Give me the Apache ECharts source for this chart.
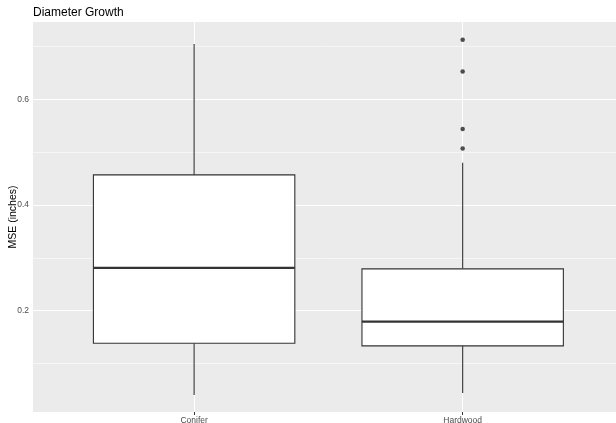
<!DOCTYPE html>
<html>
<head>
<meta charset="utf-8">
<script src="https://cdn.jsdelivr.net/npm/echarts@6/dist/echarts.min.js"></script>
<style>
  html, body { margin: 0; padding: 0; background: #fff; }
  #chart { width: 616px; height: 423px; }
</style>
</head>
<body>
<div id="chart"></div>
<script>
// Box-plot summaries of diameter-growth MSE by species group
const categories = ['Conifer', 'Hardwood'];
const whiskerLow = [0.040, 0.044];
const q1 = [0.138, 0.133];
const median = [0.281, 0.179];
const q3 = [0.457, 0.279];
const whiskerHigh = [0.705, 0.480];
// Points beyond the whiskers (Hardwood only)
const hardwoodOutliers = [0.713, 0.653, 0.544, 0.507];
// Axis ticks and grid levels
const yMajor = [0.2, 0.4, 0.6];
const yMinor = [0.1, 0.3, 0.5, 0.7];
const xPositions = [0, 1];

const boxData = categories.map((c, i) => [xPositions[i], whiskerLow[i], q1[i], median[i], q3[i], whiskerHigh[i]]);
const outlierData = hardwoodOutliers.map(v => [xPositions[1], v]);

const gridLines = [];
yMinor.forEach(v => gridLines.push({ yAxis: v, lineStyle: { color: '#FFFFFF', width: 0.55, type: 'solid' } }));
yMajor.forEach(v => gridLines.push({ yAxis: v, lineStyle: { color: '#FFFFFF', width: 1.1, type: 'solid' } }));
xPositions.forEach(v => gridLines.push({ xAxis: v, lineStyle: { color: '#FFFFFF', width: 1.1, type: 'solid' } }));

const FONT = '"Liberation Sans", Arial, sans-serif';
const chart = echarts.init(document.getElementById('chart'), null, { renderer: 'canvas' });

chart.setOption({
  animation: false,
  backgroundColor: '#FFFFFF',
  title: {
    text: 'Diameter Growth',
    left: 33,
    top: 7,
    padding: 0,
    textStyle: { fontFamily: FONT, fontSize: 12, fontWeight: 'normal', color: '#000000' }
  },
  grid: {
    left: 33, top: 22, right: 0, bottom: 11,
    show: true, backgroundColor: '#EBEBEB', borderWidth: 0,
    outerBoundsMode: 'none'
  },
  xAxis: {
    type: 'value',
    min: -0.6,
    max: 1.571,
    axisLine: { show: false },
    splitLine: { show: false },
    axisTick: { show: true, length: 3, lineStyle: { color: '#333333', width: 1 }, customValues: xPositions },
    axisLabel: {
      show: true, margin: 4, color: '#4D4D4D', fontFamily: FONT, fontSize: 8.5,
      customValues: xPositions,
      formatter: v => categories[Math.round(v)] || ''
    }
  },
  yAxis: {
    type: 'value',
    min: 0.0078,
    max: 0.7467,
    name: 'MSE (inches)',
    nameLocation: 'middle',
    nameRotate: 90,
    nameGap: 14,
    nameMoveOverlap: false,
    nameTextStyle: { fontFamily: FONT, fontSize: 10.5, color: '#000000' },
    axisLine: { show: false },
    splitLine: { show: false },
    axisTick: { show: true, length: 3, lineStyle: { color: '#333333', width: 1 }, customValues: yMajor },
    axisLabel: {
      show: true, margin: 4, color: '#4D4D4D', fontFamily: FONT, fontSize: 8.5,
      customValues: yMajor,
      formatter: v => v.toFixed(1)
    }
  },
  series: [
    {
      // panel grid lines, kept beneath the boxes
      type: 'scatter',
      data: [],
      z: 1,
      silent: true,
      markLine: {
        z: 1,
        silent: true,
        symbol: ['none', 'none'],
        label: { show: false },
        emphasis: { disabled: true },
        data: gridLines
      }
    },
    {
      type: 'custom',
      z: 2,
      data: boxData,
      encode: { x: 0, y: [1, 2, 3, 4, 5] },
      renderItem: function (params, api) {
        const x = api.value(0);
        const cx = api.coord([x, api.value(1)])[0];
        const yLow = api.coord([x, api.value(1)])[1];
        const yQ1 = api.coord([x, api.value(2)])[1];
        const yMed = api.coord([x, api.value(3)])[1];
        const yQ3 = api.coord([x, api.value(4)])[1];
        const yHigh = api.coord([x, api.value(5)])[1];
        const half = api.size([0.75, 0])[0] / 2;
        const stroke = '#333333';
        return {
          type: 'group',
          children: [
            { type: 'line', shape: { x1: cx, y1: yQ3, x2: cx, y2: yHigh }, style: { stroke: stroke, lineWidth: 1.1 } },
            { type: 'line', shape: { x1: cx, y1: yQ1, x2: cx, y2: yLow }, style: { stroke: stroke, lineWidth: 1.1 } },
            { type: 'rect', shape: { x: cx - half, y: yQ3, width: 2 * half, height: yQ1 - yQ3 }, style: { fill: '#FFFFFF', stroke: stroke, lineWidth: 1.1 } },
            { type: 'line', shape: { x1: cx - half, y1: yMed, x2: cx + half, y2: yMed }, style: { stroke: stroke, lineWidth: 2.2 } }
          ]
        };
      }
    },
    {
      type: 'scatter',
      z: 3,
      data: outlierData,
      symbol: 'circle',
      symbolSize: 4.5,
      itemStyle: { color: '#222222' },
      silent: true
    }
  ]
});
</script>
</body>
</html>
